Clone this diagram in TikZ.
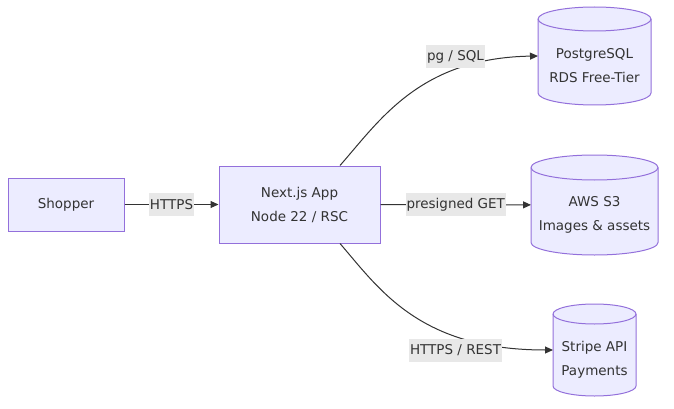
\documentclass[tikz,border=0pt]{standalone}
\usepackage{fontspec}
\setmainfont{DejaVu Sans}
\usetikzlibrary{arrows.meta,backgrounds}

\definecolor{boxfill}{HTML}{ECECFF}
\definecolor{boxline}{HTML}{9370DB}
\definecolor{ink}{HTML}{333333}
\definecolor{lblfill}{HTML}{E8E8E8}

% cylinder drawn round a named node: name, x radius, y radius
\newcommand{\dbcyl}[3]{%
  \draw[box] ([yshift=-#3]#1.north west) -- ([yshift=#3]#1.south west)
    arc[start angle=180, end angle=360, x radius=#2, y radius=#3]
    -- ([yshift=-#3]#1.north east)
    arc[start angle=0, end angle=180, x radius=#2, y radius=#3] -- cycle;
  \draw[draw=boxline, line width=1pt] ([yshift=-#3]#1.north west)
    arc[start angle=180, end angle=360, x radius=#2, y radius=#3];
}

\begin{document}
\begin{tikzpicture}[x=1pt, y=-1pt,
    font=\fontsize{13.5}{24}\selectfont, text=ink,
    box/.style={draw=boxline, fill=boxfill, line width=1pt, align=center},
    dbnode/.style={inner sep=0pt, outer sep=0pt},
    flow/.style={draw=ink, line width=1pt, -{Triangle[length=8pt,width=7pt]}},
    lbl/.style={fill=lblfill, inner xsep=1pt, inner ysep=0pt, minimum height=23pt}]

    \useasboundingbox (0, 0) rectangle (674, 409);

    % these are the services
    \node[box, minimum width=116pt, minimum height=53pt] (shopper) at (66, 204.5) {Shopper};
    \node[box, minimum width=161pt, minimum height=77pt] (app) at (299.5, 204.5) {Next.js App\\Node 22 / RSC};

    \node[dbnode, minimum width=113pt, minimum height=98pt,
          label={[align=center, yshift=-10pt]center:PostgreSQL\\RDS Free-Tier}] (pg) at (594.5, 56) {};
    \node[dbnode, minimum width=127pt, minimum height=100pt,
          label={[align=center, yshift=-10pt]center:AWS S3\\Images \& assets}] (s3) at (594.5, 205) {};
    \node[dbnode, minimum width=83pt, minimum height=92pt,
          label={[align=center, yshift=-10pt]center:Stripe API\\Payments}] (stripe) at (594.5, 350) {};

    \begin{pgfonlayer}{background}
        \dbcyl{pg}{56.5pt}{12pt}
        \dbcyl{s3}{63.5pt}{12.5pt}
        \dbcyl{stripe}{41.5pt}{10pt}
    \end{pgfonlayer}

    % these are the connections
    \draw[flow] (shopper) -- node[lbl] {HTTPS} (app);
    \draw[flow] (app) -- node[lbl] {presigned GET} (s3);
    \draw[flow] ([xshift=40.5pt]app.north) .. controls (380, 120) and (420, 58) .. (pg.west)
        node[lbl] at (455.5, 56.5) {pg / SQL};
    \draw[flow] ([xshift=40.5pt]app.south) .. controls (380, 290) and (420, 350) .. (stripe.west)
        node[lbl] at (455.5, 350.5) {HTTPS / REST};

\end{tikzpicture}
\end{document}
